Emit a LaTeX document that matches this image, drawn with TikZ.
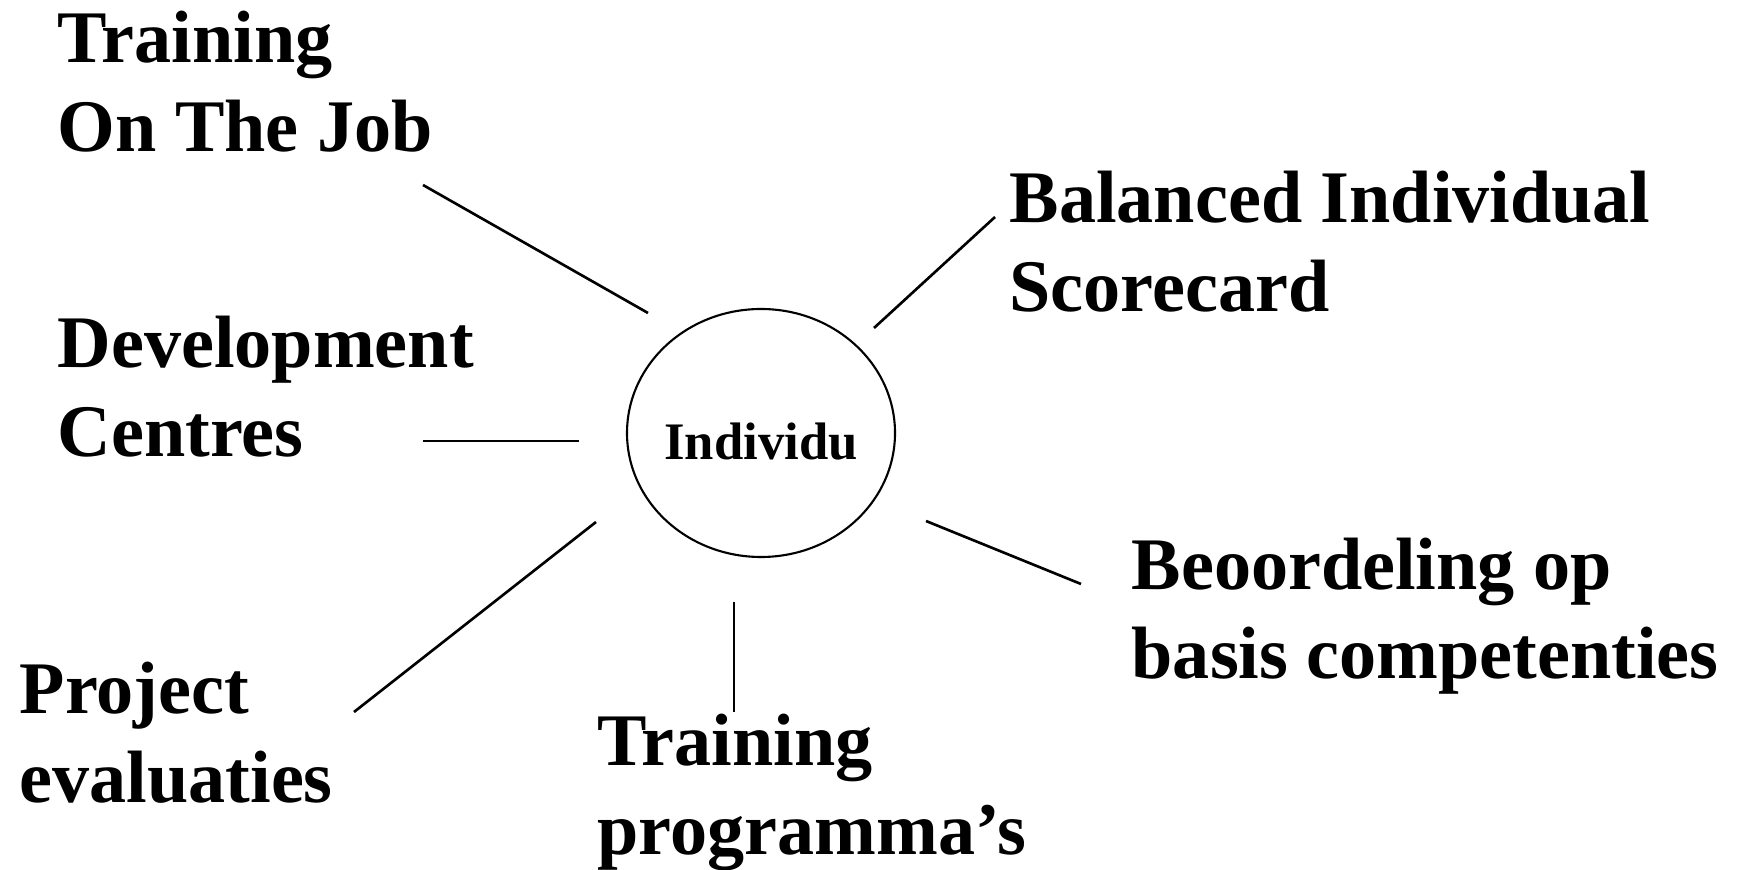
\documentclass[tikz,border=0pt]{standalone}
\usepackage{fontspec}
\setmainfont{Liberation Serif}
\usetikzlibrary{shapes.geometric}

\begin{document}
\begin{tikzpicture}
  [lbl/.style={anchor=base west,inner sep=0pt,align=left,
     font=\bfseries\fontsize{21.1}{25.6}\selectfont},
   hub/.style={ellipse,draw,line width=0.6pt,minimum width=2.68cm,
     minimum height=2.48cm,inner sep=0pt},
   link/.style={line width=0.75pt}]
  \useasboundingbox (0,0) rectangle (17.44,8.69);

  % centre
  \node[hub] (ind) at (7.61,4.36) {};
  \node[anchor=base,inner sep=0pt,font=\bfseries\fontsize{15}{18}\selectfont]
    (indt) at ([yshift=-0.27cm]ind.center) {Individu};

  % labels (anchored on the baseline of the last line)
  \node[lbl] (ojt) at (0.57,7.17) {Training\\On The Job};
  \node[lbl] (dev) at (0.57,4.12) {Development\\Centres};
  \node[lbl] (bis) at (10.09,5.57) {Balanced Individual\\Scorecard};
  \node[lbl] (beo) at (11.31,1.90) {Beoordeling op\\basis competenties};
  \node[lbl] (proj) at (0.19,0.66) {Project\\evaluaties};
  \node[lbl] (prog) at (5.97,0.14) {Training\\programma's};

  % loose line ends
  \coordinate (ojt-a) at (4.23,6.84);  \coordinate (ojt-b) at (6.48,5.56);
  \coordinate (dev-a) at (4.23,4.28);  \coordinate (dev-b) at (5.79,4.28);
  \coordinate (bis-a) at (9.95,6.52);  \coordinate (bis-b) at (8.74,5.41);
  \coordinate (beo-a) at (10.81,2.85); \coordinate (beo-b) at (9.26,3.48);
  \coordinate (proj-a) at (3.54,1.57); \coordinate (proj-b) at (5.96,3.47);
  \coordinate (prog-a) at (7.34,1.57); \coordinate (prog-b) at (7.34,2.67);

  \draw[link] (ojt-a) -- (ojt-b);
  \draw[link] (dev-a) -- (dev-b);
  \draw[link] (bis-a) -- (bis-b);
  \draw[link] (beo-a) -- (beo-b);
  \draw[link] (proj-a) -- (proj-b);
  \draw[link] (prog-a) -- (prog-b);
\end{tikzpicture}
\end{document}
